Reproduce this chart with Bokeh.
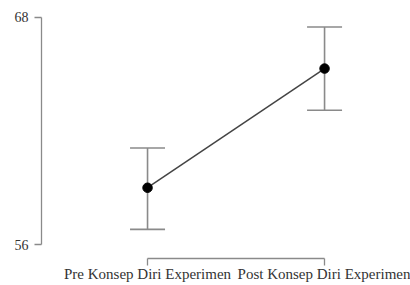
from bokeh.plotting import figure
from bokeh.models import ColumnDataSource, Range1d, FixedTicker, Whisker, TeeHead
from bokeh.embed import file_html
from bokeh.resources import INLINE

categories = ["Pre Konsep Diri Experimen", "Post Konsep Diri Experimen"]
means = [59.0, 65.3]
lower = [56.8, 63.1]
upper = [61.1, 67.5]
y_ticks = [56, 68]

xs = list(range(len(categories)))
src = ColumnDataSource(dict(x=xs, mean=means, lower=lower, upper=upper))

p = figure(width=410, height=285, output_backend="svg", toolbar_location=None,
           x_range=Range1d(-0.599, 1.429), y_range=Range1d(55.26, 68.21),
           min_border_left=41, min_border_right=10, min_border_top=13, min_border_bottom=27)
p.outline_line_color = None
p.xgrid.visible = False
p.ygrid.visible = False
p.background_fill_color = "white"

w = Whisker(source=src, base="x", upper="upper", lower="lower",
            line_color="#8a8a8a", line_width=1.6,
            upper_head=TeeHead(size=35, line_color="#8a8a8a", line_width=1.6),
            lower_head=TeeHead(size=35, line_color="#8a8a8a", line_width=1.6))
p.add_layout(w)
p.line("x", "mean", source=src, line_color="#444444", line_width=1.5)
p.scatter("x", "mean", source=src, size=9.5, fill_color="black", line_color="black")

for ax in (p.xaxis[0], p.yaxis[0]):
    ax.axis_line_color = "#8a8a8a"
    ax.axis_line_width = 1.3
    ax.major_tick_line_color = "#8a8a8a"
    ax.major_tick_line_width = 1.3
    ax.major_tick_in = 0
    ax.major_tick_out = 7
    ax.minor_tick_line_color = None
    ax.major_label_text_font = "'Liberation Serif', 'Times New Roman', serif"
    ax.major_label_text_color = "#333333"

p.xaxis[0].major_label_text_font_size = "15px"
p.xaxis[0].major_label_standoff = 0
p.yaxis[0].major_label_text_font_size = "14px"
p.yaxis[0].major_label_standoff = 6

p.xaxis[0].ticker = FixedTicker(ticks=xs)
p.xaxis[0].major_label_overrides = {i: c for i, c in zip(xs, categories)}
p.xaxis[0].bounds = (xs[0], xs[-1])
p.yaxis[0].ticker = FixedTicker(ticks=y_ticks)
p.yaxis[0].bounds = (y_ticks[0], y_ticks[-1])

open("out.html", "w").write(file_html(p, INLINE))
